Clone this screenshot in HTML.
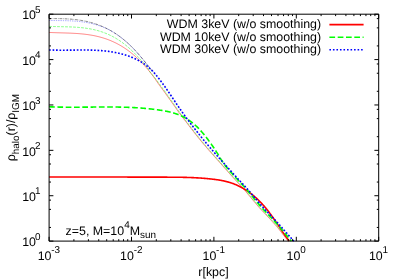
<!DOCTYPE html>
<html><head><meta charset="utf-8"><title>plot</title><style>html,body{margin:0;padding:0;background:#fff}body{width:400px;height:279px;overflow:hidden}svg{will-change:transform}text{text-rendering:geometricPrecision}</style></head><body>
<svg width="400" height="279" viewBox="0 0 400 279" style="display:block">
<rect width="400" height="279" fill="#fff"/>
<g fill="none" stroke-linejoin="round">
<path d="M49.10,32.44 L49.60,32.47 L50.10,32.49 L50.60,32.51 L51.10,32.53 L51.60,32.56 L52.10,32.58 L52.60,32.59 L53.10,32.61 L53.60,32.63 L54.10,32.65 L54.60,32.67 L55.10,32.68 L55.60,32.70 L56.10,32.72 L56.60,32.73 L57.10,32.75 L57.60,32.76 L58.10,32.77 L58.60,32.79 L59.10,32.80 L59.60,32.82 L60.10,32.83 L60.60,32.84 L61.10,32.86 L61.60,32.87 L62.10,32.89 L62.60,32.90 L63.10,32.91 L63.60,32.93 L64.10,32.94 L64.60,32.96 L65.10,32.97 L65.60,32.99 L66.10,33.00 L66.60,33.02 L67.10,33.04 L67.60,33.05 L68.10,33.07 L68.60,33.09 L69.10,33.11 L69.60,33.13 L70.10,33.15 L70.60,33.17 L71.10,33.19 L71.60,33.21 L72.10,33.24 L72.60,33.26 L73.10,33.28 L73.60,33.31 L74.10,33.34 L74.60,33.37 L75.10,33.39 L75.60,33.42 L76.10,33.46 L76.60,33.49 L77.10,33.52 L77.60,33.56 L78.10,33.59 L78.60,33.63 L79.10,33.67 L79.60,33.71 L80.10,33.75 L80.60,33.80 L81.10,33.84 L81.60,33.89 L82.10,33.94 L82.60,33.99 L83.10,34.04 L83.60,34.09 L84.10,34.15 L84.60,34.20 L85.10,34.26 L85.60,34.32 L86.10,34.38 L86.60,34.45 L87.10,34.52 L87.60,34.58 L88.10,34.65 L88.60,34.73 L89.10,34.80 L89.60,34.88 L90.10,34.96 L90.60,35.04 L91.10,35.12 L91.60,35.21 L92.10,35.30 L92.60,35.39 L93.10,35.48 L93.60,35.58 L94.10,35.68 L94.60,35.78 L95.10,35.88 L95.60,35.99 L96.10,36.10 L96.60,36.21 L97.10,36.33 L97.60,36.44 L98.10,36.57 L98.60,36.69 L99.10,36.81 L99.60,36.94 L100.10,37.08 L100.60,37.21 L101.10,37.35 L101.60,37.49 L102.10,37.64 L102.60,37.79 L103.10,37.94 L103.60,38.09 L104.10,38.25 L104.60,38.41 L105.10,38.58 L105.60,38.74 L106.10,38.92 L106.60,39.09 L107.10,39.27 L107.60,39.45 L108.10,39.64 L108.60,39.83 L109.10,40.02 L109.60,40.22 L110.10,40.42 L110.60,40.62 L111.10,40.83 L111.60,41.05 L112.10,41.26 L112.60,41.48 L113.10,41.71 L113.60,41.94 L114.10,42.17 L114.60,42.41 L115.10,42.65 L115.60,42.89 L116.10,43.14 L116.60,43.40 L117.10,43.66 L117.60,43.92 L118.10,44.19 L118.60,44.46 L119.10,44.73 L119.60,45.02 L120.10,45.30 L120.60,45.59 L121.10,45.89 L121.60,46.18 L122.10,46.49 L122.60,46.80 L123.10,47.11 L123.60,47.43 L124.10,47.75 L124.60,48.08 L125.10,48.41 L125.60,48.75 L126.10,49.10 L126.60,49.44 L127.10,49.80 L127.60,50.16 L128.10,50.52 L128.60,50.89 L129.10,51.27 L129.60,51.65 L130.10,52.03 L130.60,52.42 L131.10,52.82 L131.60,53.22 L132.10,53.63 L132.60,54.04 L133.10,54.46 L133.60,54.88 L134.10,55.31 L134.60,55.74 L135.10,56.18 L135.60,56.63 L136.10,57.08 L136.60,57.54 L137.10,58.00 L137.60,58.47 L138.10,58.95 L138.60,59.43 L139.10,59.92 L139.60,60.41 L140.10,60.91 L140.60,61.42 L141.10,61.93 L141.60,62.45 L142.10,62.97 L142.60,63.50 L143.10,64.04 L143.60,64.58 L144.10,65.13 L144.60,65.69 L145.10,66.25 L145.60,66.82 L146.10,67.39 L146.60,67.98 L147.10,68.56 L147.60,69.16 L148.10,69.76 L148.60,70.37 L149.10,70.98 L149.60,71.61 L150.10,72.23 L150.60,72.87 L151.10,73.51 L151.60,74.16 L152.10,74.82 L152.60,75.48 L153.10,76.15 L153.60,76.83 L154.10,77.51 L154.60,78.21 L155.10,78.94 L155.60,79.67 L156.10,80.41 L156.60,81.15 L157.10,81.88 L157.60,82.61 L158.10,83.32 L158.60,84.03 L159.10,84.73 L159.60,85.43 L160.10,86.13 L160.60,86.80 L161.10,87.47 L161.60,88.14 L162.10,88.82 L162.60,89.50 L163.10,90.18 L163.60,90.87 L164.10,91.56 L164.60,92.25 L165.10,92.94 L165.60,93.63 L166.10,94.33 L166.60,95.03 L167.10,95.73 L167.60,96.43 L168.10,97.13 L168.60,97.84 L169.10,98.54 L169.60,99.24 L170.10,99.95 L170.60,100.65 L171.10,101.36 L171.60,102.06 L172.10,102.77 L172.60,103.47 L173.10,104.17 L173.60,104.87 L174.10,105.57 L174.60,106.29 L175.10,107.01 L175.60,107.73 L176.10,108.45 L176.60,109.16 L177.10,109.87 L177.60,110.57 L178.10,111.27 L178.60,111.97 L179.10,112.66 L179.60,113.35 L180.10,114.03 L180.60,114.71 L181.10,115.39 L181.60,116.06 L182.10,116.72 L182.60,117.39 L183.10,118.05 L183.60,118.70 L184.10,119.36 L184.60,120.01 L185.10,120.66 L185.60,121.30 L186.10,121.95 L186.60,122.59 L187.10,123.23 L187.60,123.89 L188.10,124.55 L188.60,125.21 L189.10,125.87 L189.60,126.52 L190.10,127.17 L190.60,127.83 L191.10,128.48 L191.60,129.13 L192.10,129.78 L192.60,130.42 L193.10,131.07 L193.60,131.71 L194.10,132.35 L194.60,132.99 L195.10,133.63 L195.60,134.27 L196.10,134.91 L196.60,135.54 L197.10,136.17 L197.60,136.80 L198.10,137.43 L198.60,138.05 L199.10,138.68 L199.60,139.30 L200.10,139.92 L200.60,140.52 L201.10,141.12 L201.60,141.72 L202.10,142.32 L202.60,142.91 L203.10,143.51 L203.60,144.10 L204.10,144.69 L204.60,145.28 L205.10,145.86 L205.60,146.45 L206.10,147.03 L206.60,147.61 L207.10,148.19 L207.60,148.77 L208.10,149.35 L208.60,149.92 L209.10,150.49 L209.60,151.07 L210.10,151.64 L210.60,152.21 L211.10,152.77 L211.60,153.34 L212.10,153.91 L212.60,154.47 L213.10,155.04 L213.60,155.60 L214.10,156.16 L214.60,156.72 L215.10,157.28 L215.60,157.84 L216.10,158.40 L216.60,158.97 L217.10,159.54 L217.60,160.11 L218.10,160.67 L218.60,161.24 L219.10,161.80 L219.60,162.37 L220.10,162.93 L220.60,163.50 L221.10,164.06 L221.60,164.62 L222.10,165.19 L222.60,165.75 L223.10,166.31 L223.60,166.87 L224.10,167.44 L224.60,168.00 L225.10,168.56 L225.60,169.13 L226.10,169.69 L226.60,170.25 L227.10,170.81 L227.60,171.38 L228.10,171.94 L228.60,172.50 L229.10,173.06 L229.60,173.62 L230.10,174.18 L230.60,174.74 L231.10,175.30 L231.60,175.86 L232.10,176.42 L232.60,176.97 L233.10,177.53 L233.60,178.09 L234.10,178.64 L234.60,179.19 L235.10,179.74 L235.60,180.29 L236.10,180.84 L236.60,181.38 L237.10,181.92 L237.60,182.46 L238.10,183.00 L238.60,183.54 L239.10,184.07 L239.60,184.61 L240.10,185.15 L240.60,185.69 L241.10,186.24 L241.60,186.78 L242.10,187.33 L242.60,187.89 L243.10,188.45 L243.60,189.02 L244.10,189.59 L244.60,190.17 L245.10,190.76 L245.60,191.35 L246.10,191.95 L246.60,192.55 L247.10,193.15 L247.60,193.76 L248.10,194.36 L248.60,194.96 L249.10,195.56 L249.60,196.16 L250.10,196.76 L250.60,197.36 L251.10,197.96 L251.60,198.55 L252.10,199.15 L252.60,199.74 L253.10,200.34 L253.60,200.93 L254.10,201.53 L254.60,202.12 L255.10,202.71 L255.60,203.31 L256.10,203.90 L256.60,204.49 L257.10,205.08 L257.60,205.67 L258.10,206.25 L258.60,206.83 L259.10,207.40 L259.60,207.97 L260.10,208.53 L260.60,209.08 L261.10,209.62 L261.60,210.17 L262.10,210.70 L262.60,211.24 L263.10,211.77 L263.60,212.30 L264.10,212.83 L264.60,213.35 L265.10,213.88 L265.60,214.40 L266.10,214.92 L266.60,215.45 L267.10,215.97 L267.60,216.50 L268.10,217.02 L268.60,217.55 L269.10,218.09 L269.60,218.62 L270.10,219.16 L270.60,219.70 L271.10,220.25 L271.60,220.79 L272.10,221.35 L272.60,221.90 L273.10,222.46 L273.60,223.01 L274.10,223.57 L274.60,224.14 L275.10,224.70 L275.60,225.27 L276.10,225.84 L276.60,226.41 L277.10,226.98 L277.60,227.55 L278.10,228.14 L278.60,228.78 L279.10,229.43 L279.60,230.08 L280.10,230.73 L280.60,231.37 L281.10,232.02 L281.60,232.67 L282.10,233.32 L282.60,233.97 L283.10,234.61 L283.60,235.26 L284.10,235.90 L284.60,236.54 L285.10,237.19 L285.60,237.83 L286.10,238.46 L286.60,239.10 L287.10,239.73 L287.60,240.36 L288.10,240.98 L288.20,241.10" stroke="#f00" stroke-width="0.5"/>
<path d="M49.10,26.39 L49.60,26.41 L50.10,26.43 L50.60,26.45 L51.10,26.47 L51.60,26.48 L52.10,26.50 L52.60,26.51 L53.10,26.53 L53.60,26.54 L54.10,26.56 L54.60,26.57 L55.10,26.58 L55.60,26.59 L56.10,26.60 L56.60,26.61 L57.10,26.62 L57.60,26.63 L58.10,26.64 L58.60,26.65 L59.10,26.66 L59.60,26.67 L60.10,26.68 L60.60,26.69 L61.10,26.70 L61.60,26.71 L62.10,26.72 L62.60,26.73 L63.10,26.74 L63.60,26.75 L64.10,26.76 L64.60,26.77 L65.10,26.78 L65.60,26.79 L66.10,26.80 L66.60,26.81 L67.10,26.83 L67.60,26.84 L68.10,26.86 L68.60,26.87 L69.10,26.89 L69.60,26.90 L70.10,26.92 L70.60,26.94 L71.10,26.96 L71.60,26.98 L72.10,27.00 L72.60,27.03 L73.10,27.05 L73.60,27.07 L74.10,27.10 L74.60,27.13 L75.10,27.16 L75.60,27.19 L76.10,27.22 L76.60,27.25 L77.10,27.29 L77.60,27.32 L78.10,27.36 L78.60,27.40 L79.10,27.44 L79.60,27.49 L80.10,27.53 L80.60,27.58 L81.10,27.63 L81.60,27.68 L82.10,27.73 L82.60,27.78 L83.10,27.84 L83.60,27.90 L84.10,27.96 L84.60,28.02 L85.10,28.09 L85.60,28.15 L86.10,28.22 L86.60,28.30 L87.10,28.37 L87.60,28.45 L88.10,28.53 L88.60,28.61 L89.10,28.69 L89.60,28.78 L90.10,28.87 L90.60,28.96 L91.10,29.06 L91.60,29.16 L92.10,29.26 L92.60,29.37 L93.10,29.47 L93.60,29.58 L94.10,29.70 L94.60,29.81 L95.10,29.93 L95.60,30.06 L96.10,30.18 L96.60,30.31 L97.10,30.45 L97.60,30.58 L98.10,30.72 L98.60,30.87 L99.10,31.01 L99.60,31.16 L100.10,31.32 L100.60,31.48 L101.10,31.64 L101.60,31.80 L102.10,31.97 L102.60,32.14 L103.10,32.32 L103.60,32.50 L104.10,32.69 L104.60,32.88 L105.10,33.07 L105.60,33.27 L106.10,33.47 L106.60,33.67 L107.10,33.88 L107.60,34.10 L108.10,34.32 L108.60,34.54 L109.10,34.77 L109.60,35.00 L110.10,35.23 L110.60,35.48 L111.10,35.72 L111.60,35.97 L112.10,36.23 L112.60,36.49 L113.10,36.75 L113.60,37.02 L114.10,37.30 L114.60,37.58 L115.10,37.86 L115.60,38.15 L116.10,38.45 L116.60,38.75 L117.10,39.05 L117.60,39.36 L118.10,39.68 L118.60,40.00 L119.10,40.32 L119.60,40.66 L120.10,40.99 L120.60,41.34 L121.10,41.69 L121.60,42.04 L122.10,42.40 L122.60,42.76 L123.10,43.14 L123.60,43.51 L124.10,43.90 L124.60,44.28 L125.10,44.68 L125.60,45.08 L126.10,45.49 L126.60,45.90 L127.10,46.32 L127.60,46.74 L128.10,47.17 L128.60,47.61 L129.10,48.05 L129.60,48.50 L130.10,48.96 L130.60,49.42 L131.10,49.89 L131.60,50.36 L132.10,50.84 L132.60,51.32 L133.10,51.82 L133.60,52.31 L134.10,52.81 L134.60,53.32 L135.10,53.83 L135.60,54.35 L136.10,54.87 L136.60,55.39 L137.10,55.92 L137.60,56.45 L138.10,56.98 L138.60,57.52 L139.10,58.06 L139.60,58.60 L140.10,59.14 L140.60,59.68 L141.10,60.23 L141.60,60.78 L142.10,61.33 L142.60,61.89 L143.10,62.45 L143.60,63.01 L144.10,63.57 L144.60,64.14 L145.10,64.71 L145.60,65.29 L146.10,65.87 L146.60,66.53 L147.10,67.27 L147.60,68.07 L148.10,68.88 L148.60,69.70 L149.10,70.51 L149.60,71.28 L150.10,72.02 L150.60,72.71 L151.10,73.35 L151.60,73.93 L152.10,74.51 L152.60,75.10 L153.10,75.70 L153.60,76.31 L154.10,76.93 L154.60,77.56 L155.10,78.19 L155.60,78.83 L156.10,79.48 L156.60,80.14 L157.10,80.80 L157.60,81.47 L158.10,82.15 L158.60,82.83 L159.10,83.51 L159.60,84.21 L160.10,84.90 L160.60,85.56 L161.10,86.24 L161.60,86.91 L162.10,87.59 L162.60,88.27 L163.10,88.96 L163.60,89.65 L164.10,90.34 L164.60,91.04 L165.10,91.73 L165.60,92.43 L166.10,93.13 L166.60,93.84 L167.10,94.54 L167.60,95.25 L168.10,95.96 L168.60,96.67 L169.10,97.38 L169.60,98.09 L170.10,98.81 L170.60,99.52 L171.10,100.23 L171.60,100.94 L172.10,101.66 L172.60,102.37 L173.10,103.08 L173.60,103.79 L174.10,104.51 L174.60,105.23 L175.10,105.96 L175.60,106.68 L176.10,107.41 L176.60,108.13 L177.10,108.84 L177.60,109.55 L178.10,110.26 L178.60,110.97 L179.10,111.67 L179.60,112.37 L180.10,113.06 L180.60,113.75 L181.10,114.43 L181.60,115.11 L182.10,115.79 L182.60,116.46 L183.10,117.13 L183.60,117.80 L184.10,118.46 L184.60,119.11 L185.10,119.77 L185.60,120.42 L186.10,121.07 L186.60,121.72 L187.10,122.37 L187.60,123.03 L188.10,123.69 L188.60,124.35 L189.10,125.00 L189.60,125.66 L190.10,126.31 L190.60,126.96 L191.10,127.61 L191.60,128.26 L192.10,128.91 L192.60,129.56 L193.10,130.20 L193.60,130.85 L194.10,131.49 L194.60,132.13 L195.10,132.77 L195.60,133.41 L196.10,134.04 L196.60,134.68 L197.10,135.31 L197.60,135.94 L198.10,136.57 L198.60,137.20 L199.10,137.82 L199.60,138.44 L200.10,139.06 L200.60,139.67 L201.10,140.27 L201.60,140.88 L202.10,141.48 L202.60,142.08 L203.10,142.68 L203.60,143.27 L204.10,143.86 L204.60,144.46 L205.10,145.04 L205.60,145.63 L206.10,146.22 L206.60,146.80 L207.10,147.38 L207.60,147.97 L208.10,148.54 L208.60,149.12 L209.10,149.70 L209.60,150.27 L210.10,150.85 L210.60,151.42 L211.10,151.99 L211.60,152.56 L212.10,153.13 L212.60,153.69 L213.10,154.26 L213.60,154.83 L214.10,155.39 L214.60,155.95 L215.10,156.51 L215.60,157.08 L216.10,157.64 L216.60,158.21 L217.10,158.77 L217.60,159.34 L218.10,159.91 L218.60,160.47 L219.10,161.03 L219.60,161.60 L220.10,162.16 L220.60,162.73 L221.10,163.29 L221.60,163.85 L222.10,164.41 L222.60,164.97 L223.10,165.54 L223.60,166.10 L224.10,166.66 L224.60,167.22 L225.10,167.78 L225.60,168.34 L226.10,168.90 L226.60,169.47 L227.10,170.03 L227.60,170.59 L228.10,171.15 L228.60,171.71 L229.10,172.27 L229.60,172.83 L230.10,173.39 L230.60,173.95 L231.10,174.51 L231.60,175.07 L232.10,175.62 L232.60,176.18 L233.10,176.74 L233.60,177.29 L234.10,177.85 L234.60,178.40 L235.10,178.95 L235.60,179.50 L236.10,180.05 L236.60,180.59 L237.10,181.14 L237.60,181.68 L238.10,182.22 L238.60,182.75 L239.10,183.29 L239.60,183.82 L240.10,184.36 L240.60,184.89 L241.10,185.43 L241.60,185.97 L242.10,186.52 L242.60,187.06 L243.10,187.61 L243.60,188.17 L244.10,188.73 L244.60,189.30 L245.10,189.88 L245.60,190.46 L246.10,191.05 L246.60,191.64 L247.10,192.23 L247.60,192.83 L248.10,193.44 L248.60,194.03 L249.10,194.63 L249.60,195.23 L250.10,195.83 L250.60,196.43 L251.10,197.02 L251.60,197.62 L252.10,198.22 L252.60,198.81 L253.10,199.41 L253.60,200.00 L254.10,200.60 L254.60,201.19 L255.10,201.78 L255.60,202.38 L256.10,202.97 L256.60,203.56 L257.10,204.15 L257.60,204.75 L258.10,205.33 L258.60,205.92 L259.10,206.50 L259.60,207.07 L260.10,207.64 L260.60,208.20 L261.10,208.76 L261.60,209.31 L262.10,209.85 L262.60,210.39 L263.10,210.92 L263.60,211.46 L264.10,211.99 L264.60,212.52 L265.10,213.04 L265.60,213.57 L266.10,214.09 L266.60,214.61 L267.10,215.13 L267.60,215.66 L268.10,216.18 L268.60,216.70 L269.10,217.23 L269.60,217.76 L270.10,218.29 L270.60,218.83 L271.10,219.36 L271.60,219.91 L272.10,220.45 L272.60,221.00 L273.10,221.55 L273.60,222.10 L274.10,222.66 L274.60,223.22 L275.10,223.78 L275.60,224.34 L276.10,224.90 L276.60,225.47 L277.10,226.03 L277.60,226.60 L278.10,227.18 L278.60,227.81 L279.10,228.44 L279.60,229.07 L280.10,229.70 L280.60,230.34 L281.10,230.97 L281.60,231.60 L282.10,232.23 L282.60,232.87 L283.10,233.50 L283.60,234.13 L284.10,234.76 L284.60,235.39 L285.10,236.02 L285.60,236.64 L286.10,237.27 L286.60,237.89 L287.10,238.51 L287.60,239.13 L288.10,239.74 L288.60,240.33 L289.10,240.91 L289.26,241.10" stroke="#0f0" stroke-width="0.5" stroke-dasharray="2.8 1.2"/>
<path d="M49.10,20.49 L49.60,20.50 L50.10,20.50 L50.60,20.51 L51.10,20.51 L51.60,20.52 L52.10,20.52 L52.60,20.53 L53.10,20.53 L53.60,20.54 L54.10,20.54 L54.60,20.54 L55.10,20.55 L55.60,20.55 L56.10,20.55 L56.60,20.56 L57.10,20.56 L57.60,20.57 L58.10,20.57 L58.60,20.58 L59.10,20.58 L59.60,20.59 L60.10,20.59 L60.60,20.60 L61.10,20.60 L61.60,20.61 L62.10,20.62 L62.60,20.63 L63.10,20.64 L63.60,20.65 L64.10,20.66 L64.60,20.67 L65.10,20.68 L65.60,20.69 L66.10,20.71 L66.60,20.72 L67.10,20.74 L67.60,20.75 L68.10,20.77 L68.60,20.79 L69.10,20.81 L69.60,20.83 L70.10,20.85 L70.60,20.87 L71.10,20.90 L71.60,20.93 L72.10,20.95 L72.60,20.98 L73.10,21.01 L73.60,21.04 L74.10,21.08 L74.60,21.11 L75.10,21.15 L75.60,21.19 L76.10,21.23 L76.60,21.27 L77.10,21.31 L77.60,21.36 L78.10,21.41 L78.60,21.46 L79.10,21.51 L79.60,21.56 L80.10,21.62 L80.60,21.67 L81.10,21.73 L81.60,21.80 L82.10,21.86 L82.60,21.93 L83.10,22.00 L83.60,22.07 L84.10,22.14 L84.60,22.22 L85.10,22.30 L85.60,22.38 L86.10,22.46 L86.60,22.55 L87.10,22.64 L87.60,22.73 L88.10,22.82 L88.60,22.92 L89.10,23.02 L89.60,23.12 L90.10,23.23 L90.60,23.34 L91.10,23.45 L91.60,23.56 L92.10,23.68 L92.60,23.80 L93.10,23.93 L93.60,24.06 L94.10,24.19 L94.60,24.32 L95.10,24.46 L95.60,24.60 L96.10,24.74 L96.60,24.89 L97.10,25.04 L97.60,25.20 L98.10,25.36 L98.60,25.52 L99.10,25.68 L99.60,25.85 L100.10,26.03 L100.60,26.20 L101.10,26.38 L101.60,26.56 L102.10,26.75 L102.60,26.94 L103.10,27.13 L103.60,27.33 L104.10,27.53 L104.60,27.73 L105.10,27.94 L105.60,28.16 L106.10,28.38 L106.60,28.60 L107.10,28.83 L107.60,29.07 L108.10,29.31 L108.60,29.56 L109.10,29.81 L109.60,30.07 L110.10,30.33 L110.60,30.60 L111.10,30.88 L111.60,31.16 L112.10,31.44 L112.60,31.74 L113.10,32.04 L113.60,32.34 L114.10,32.65 L114.60,32.97 L115.10,33.29 L115.60,33.62 L116.10,33.95 L116.60,34.29 L117.10,34.63 L117.60,34.98 L118.10,35.33 L118.60,35.69 L119.10,36.05 L119.60,36.42 L120.10,36.79 L120.60,37.17 L121.10,37.55 L121.60,37.94 L122.10,38.33 L122.60,38.72 L123.10,39.12 L123.60,39.53 L124.10,39.94 L124.60,40.36 L125.10,40.78 L125.60,41.20 L126.10,41.64 L126.60,42.07 L127.10,42.52 L127.60,42.96 L128.10,43.42 L128.60,43.88 L129.10,44.34 L129.60,44.81 L130.10,45.29 L130.60,45.77 L131.10,46.26 L131.60,46.75 L132.10,47.25 L132.60,47.76 L133.10,48.27 L133.60,48.78 L134.10,49.31 L134.60,49.83 L135.10,50.37 L135.60,50.91 L136.10,51.45 L136.60,52.01 L137.10,52.56 L137.60,53.12 L138.10,53.69 L138.60,54.26 L139.10,54.83 L139.60,55.41 L140.10,56.00 L140.60,56.58 L141.10,57.17 L141.60,57.77 L142.10,58.37 L142.60,58.97 L143.10,59.57 L143.60,60.18 L144.10,60.79 L144.60,61.40 L145.10,62.01 L145.60,62.63 L146.10,63.25 L146.60,63.87 L147.10,64.49 L147.60,65.11 L148.10,65.74 L148.60,66.40 L149.10,67.09 L149.60,67.77 L150.10,68.42 L150.60,69.03 L151.10,69.60 L151.60,70.14 L152.10,70.65 L152.60,71.17 L153.10,71.69 L153.60,72.23" stroke="#00f" stroke-width="0.5" stroke-dasharray="0.7 1.06"/>
<path d="M49.10,18.63 L49.60,18.62 L50.10,18.62 L50.60,18.62 L51.10,18.61 L51.60,18.61 L52.10,18.60 L52.60,18.60 L53.10,18.60 L53.60,18.60 L54.10,18.60 L54.60,18.60 L55.10,18.60 L55.60,18.60 L56.10,18.60 L56.60,18.60 L57.10,18.61 L57.60,18.61 L58.10,18.62 L58.60,18.62 L59.10,18.63 L59.60,18.64 L60.10,18.65 L60.60,18.66 L61.10,18.67 L61.60,18.68 L62.10,18.69 L62.60,18.71 L63.10,18.72 L63.60,18.74 L64.10,18.76 L64.60,18.78 L65.10,18.80 L65.60,18.82 L66.10,18.85 L66.60,18.87 L67.10,18.90 L67.60,18.93 L68.10,18.95 L68.60,18.99 L69.10,19.02 L69.60,19.05 L70.10,19.09 L70.60,19.13 L71.10,19.17 L71.60,19.21 L72.10,19.25 L72.60,19.30 L73.10,19.34 L73.60,19.39 L74.10,19.44 L74.60,19.49 L75.10,19.55 L75.60,19.61 L76.10,19.66 L76.60,19.73 L77.10,19.79 L77.60,19.85 L78.10,19.92 L78.60,19.99 L79.10,20.06 L79.60,20.14 L80.10,20.21 L80.60,20.29 L81.10,20.37 L81.60,20.46 L82.10,20.54 L82.60,20.63 L83.10,20.72 L83.60,20.81 L84.10,20.91 L84.60,21.01 L85.10,21.11 L85.60,21.22 L86.10,21.32 L86.60,21.43 L87.10,21.54 L87.60,21.66 L88.10,21.78 L88.60,21.90 L89.10,22.02 L89.60,22.15 L90.10,22.28 L90.60,22.41 L91.10,22.55 L91.60,22.69 L92.10,22.83 L92.60,22.98 L93.10,23.12 L93.60,23.28 L94.10,23.43 L94.60,23.59 L95.10,23.75 L95.60,23.92 L96.10,24.08 L96.60,24.26 L97.10,24.43 L97.60,24.61 L98.10,24.79 L98.60,24.98 L99.10,25.17 L99.60,25.36 L100.10,25.56 L100.60,25.76 L101.10,25.96 L101.60,26.17 L102.10,26.38 L102.60,26.60 L103.10,26.82 L103.60,27.04 L104.10,27.27 L104.60,27.50 L105.10,27.73 L105.60,27.97 L106.10,28.21 L106.60,28.46 L107.10,28.71 L107.60,28.97 L108.10,29.23 L108.60,29.49 L109.10,29.76 L109.60,30.03 L110.10,30.31 L110.60,30.59 L111.10,30.87 L111.60,31.16 L112.10,31.46 L112.60,31.76 L113.10,32.06 L113.60,32.37 L114.10,32.68 L114.60,33.00 L115.10,33.32 L115.60,33.65 L116.10,33.98 L116.60,34.31 L117.10,34.65 L117.60,35.00 L118.10,35.35 L118.60,35.70 L119.10,36.06 L119.60,36.43 L120.10,36.80 L120.60,37.17 L121.10,37.55 L121.60,37.94 L122.10,38.33 L122.60,38.72 L123.10,39.12 L123.60,39.53 L124.10,39.94 L124.60,40.36 L125.10,40.78 L125.60,41.20 L126.10,41.64 L126.60,42.07 L127.10,42.52 L127.60,42.96 L128.10,43.42 L128.60,43.88 L129.10,44.34 L129.60,44.81 L130.10,45.29 L130.60,45.77 L131.10,46.26 L131.60,46.75 L132.10,47.25 L132.60,47.76 L133.10,48.27 L133.60,48.78 L134.10,49.31 L134.60,49.83 L135.10,50.37 L135.60,50.91 L136.10,51.45 L136.60,52.01 L137.10,52.56 L137.60,53.12 L138.10,53.69 L138.60,54.26 L139.10,54.83 L139.60,55.41 L140.10,56.00 L140.60,56.58 L141.10,57.17 L141.60,57.77 L142.10,58.37 L142.60,58.97 L143.10,59.57 L143.60,60.18 L144.10,60.79 L144.60,61.40 L145.10,62.01 L145.60,62.63 L146.10,63.25 L146.60,63.87 L147.10,64.49 L147.60,65.11 L148.10,65.74 L148.60,66.40 L149.10,67.09 L149.60,67.77 L150.10,68.42 L150.60,69.03 L151.10,69.60 L151.60,70.14 L152.10,70.65 L152.60,71.17 L153.10,71.69 L153.60,72.23" stroke="#000" stroke-width="0.5" stroke-dasharray="2.8 0.9 0.6 0.9"/>
<path d="M154.10,72.78 L154.60,73.34 L155.10,73.91 L155.60,74.49 L156.10,75.08 L156.60,75.68 L157.10,76.29 L157.60,76.91 L158.10,77.53 L158.60,78.17 L159.10,78.81 L159.60,79.46 L160.10,80.11 L160.60,80.78 L161.10,81.45 L161.60,82.12 L162.10,82.80 L162.60,83.49 L163.10,84.18 L163.60,84.87 L164.10,85.57 L164.60,86.28 L165.10,86.99 L165.60,87.70 L166.10,88.42 L166.60,89.14 L167.10,89.86 L167.60,90.58 L168.10,91.31 L168.60,92.05 L169.10,92.78 L169.60,93.52 L170.10,94.26 L170.60,95.00 L171.10,95.74 L171.60,96.48 L172.10,97.23 L172.60,97.97 L173.10,98.72 L173.60,99.47 L174.10,100.21 L174.60,100.96 L175.10,101.71 L175.60,102.45 L176.10,103.20 L176.60,103.94 L177.10,104.69 L177.60,105.43 L178.10,106.17 L178.60,106.90 L179.10,107.64 L179.60,108.37 L180.10,109.10 L180.60,109.82 L181.10,110.55 L181.60,111.26 L182.10,111.98 L182.60,112.69 L183.10,113.39 L183.60,114.09 L184.10,114.78 L184.60,115.47 L185.10,116.16 L185.60,116.84 L186.10,117.52 L186.60,118.20 L187.10,118.87 L187.60,119.54 L188.10,120.20 L188.60,120.86 L189.10,121.52 L189.60,122.18 L190.10,122.84 L190.60,123.49 L191.10,124.14 L191.60,124.79 L192.10,125.44 L192.60,126.08 L193.10,126.73 L193.60,127.37 L194.10,128.01 L194.60,128.65 L195.10,129.29 L195.60,129.93 L196.10,130.57 L196.60,131.20 L197.10,131.84 L197.60,132.47 L198.10,133.10 L198.60,133.73 L199.10,134.36 L199.60,134.98 L200.10,135.60 L200.60,136.23 L201.10,136.85 L201.60,137.46 L202.10,138.08 L202.60,138.69 L203.10,139.31 L203.60,139.92 L204.10,140.52 L204.60,141.13 L205.10,141.73 L205.60,142.33 L206.10,142.93 L206.60,143.53 L207.10,144.13 L207.60,144.72 L208.10,145.31 L208.60,145.90 L209.10,146.49 L209.60,147.08 L210.10,147.66 L210.60,148.24 L211.10,148.82 L211.60,149.40 L212.10,149.98 L212.60,150.56 L213.10,151.14 L213.60,151.71 L214.10,152.28 L214.60,152.85 L215.10,153.42 L215.60,153.99 L216.10,154.56 L216.60,155.13 L217.10,155.70 L217.60,156.26 L218.10,156.83 L218.60,157.39 L219.10,157.95 L219.60,158.51 L220.10,159.07 L220.60,159.64 L221.10,160.19 L221.60,160.75 L222.10,161.31 L222.60,161.87 L223.10,162.43 L223.60,162.99 L224.10,163.54 L224.60,164.10 L225.10,164.66 L225.60,165.21 L226.10,165.77 L226.60,166.32 L227.10,166.88 L227.60,167.44 L228.10,167.99 L228.60,168.55 L229.10,169.10 L229.60,169.66 L230.10,170.21 L230.60,170.77 L231.10,171.33 L231.60,171.88 L232.10,172.44 L232.60,172.99 L233.10,173.55 L233.60,174.10 L234.10,174.65 L234.60,175.20 L235.10,175.75 L235.60,176.30 L236.10,176.85 L236.60,177.40 L237.10,177.94 L237.60,178.49 L238.10,179.03 L238.60,179.57 L239.10,180.11 L239.60,180.65 L240.10,181.18 L240.60,181.72 L241.10,182.25 L241.60,182.77 L242.10,183.30 L242.60,183.83 L243.10,184.36 L243.60,184.88 L244.10,185.41 L244.60,185.95 L245.10,186.48 L245.60,187.02 L246.10,187.56 L246.60,188.11 L247.10,188.66 L247.60,189.22 L248.10,189.79 L248.60,190.36 L249.10,190.94 L249.60,191.52 L250.10,192.11 L250.60,192.70 L251.10,193.29 L251.60,193.89 L252.10,194.48 L252.60,195.08 L253.10,195.67 L253.60,196.27 L254.10,196.86 L254.60,197.46 L255.10,198.05 L255.60,198.64 L256.10,199.23 L256.60,199.83 L257.10,200.42 L257.60,201.01 L258.10,201.60 L258.60,202.19 L259.10,202.78 L259.60,203.37 L260.10,203.96 L260.60,204.54 L261.10,205.13 L261.60,205.71 L262.10,206.29 L262.60,206.86 L263.10,207.43 L263.60,207.99 L264.10,208.55 L264.60,209.10 L265.10,209.64 L265.60,210.18 L266.10,210.71 L266.60,211.24 L267.10,211.77 L267.60,212.29 L268.10,212.81 L268.60,213.33 L269.10,213.85 L269.60,214.36 L270.10,214.88 L270.60,215.40 L271.10,215.92 L271.60,216.43 L272.10,216.95 L272.60,217.48 L273.10,218.00 L273.60,218.53 L274.10,219.06 L274.60,219.59 L275.10,220.13 L275.60,220.67 L276.10,221.21 L276.60,221.76 L277.10,222.31 L277.60,222.86 L278.10,223.41 L278.60,223.97 L279.10,224.52 L279.60,225.08 L280.10,225.64 L280.60,226.20 L281.10,226.77 L281.60,227.33 L282.10,227.90 L282.60,228.46 L283.10,229.03 L283.60,229.60 L284.10,230.16 L284.60,230.73 L285.10,231.30 L285.60,231.87 L286.10,232.44 L286.60,233.01 L287.10,233.58 L287.60,234.14 L288.10,234.71 L288.60,235.28 L289.10,235.84 L289.60,236.41 L290.10,236.97 L290.60,237.53 L291.10,238.09 L291.60,238.65 L292.10,239.20 L292.60,239.76 L293.10,240.31 L293.60,240.86 L293.82,241.10" stroke="#000" stroke-width="0.5" stroke-dasharray="2.8 0.9 0.6 0.9" stroke-opacity="0.3"/>
<path d="M49.10,177.01 L49.60,177.01 L50.10,177.01 L50.60,177.01 L51.10,177.01 L51.60,177.00 L52.10,177.00 L52.60,177.00 L53.10,177.00 L53.60,177.00 L54.10,177.00 L54.60,177.00 L55.10,176.99 L55.60,176.99 L56.10,176.99 L56.60,176.99 L57.10,176.99 L57.60,176.99 L58.10,176.99 L58.60,176.99 L59.10,176.99 L59.60,176.98 L60.10,176.98 L60.60,176.98 L61.10,176.98 L61.60,176.98 L62.10,176.98 L62.60,176.98 L63.10,176.98 L63.60,176.98 L64.10,176.98 L64.60,176.98 L65.10,176.98 L65.60,176.98 L66.10,176.97 L66.60,176.97 L67.10,176.97 L67.60,176.97 L68.10,176.97 L68.60,176.97 L69.10,176.97 L69.60,176.97 L70.10,176.97 L70.60,176.97 L71.10,176.97 L71.60,176.97 L72.10,176.97 L72.60,176.97 L73.10,176.97 L73.60,176.97 L74.10,176.97 L74.60,176.97 L75.10,176.97 L75.60,176.97 L76.10,176.97 L76.60,176.97 L77.10,176.97 L77.60,176.97 L78.10,176.97 L78.60,176.97 L79.10,176.97 L79.60,176.97 L80.10,176.97 L80.60,176.97 L81.10,176.97 L81.60,176.97 L82.10,176.97 L82.60,176.97 L83.10,176.97 L83.60,176.98 L84.10,176.98 L84.60,176.98 L85.10,176.98 L85.60,176.98 L86.10,176.98 L86.60,176.98 L87.10,176.98 L87.60,176.98 L88.10,176.98 L88.60,176.98 L89.10,176.98 L89.60,176.98 L90.10,176.98 L90.60,176.98 L91.10,176.98 L91.60,176.99 L92.10,176.99 L92.60,176.99 L93.10,176.99 L93.60,176.99 L94.10,176.99 L94.60,176.99 L95.10,176.99 L95.60,176.99 L96.10,176.99 L96.60,176.99 L97.10,177.00 L97.60,177.00 L98.10,177.00 L98.60,177.00 L99.10,177.00 L99.60,177.00 L100.10,177.00 L100.60,177.00 L101.10,177.00 L101.60,177.00 L102.10,177.01 L102.60,177.01 L103.10,177.01 L103.60,177.01 L104.10,177.01 L104.60,177.01 L105.10,177.01 L105.60,177.01 L106.10,177.02 L106.60,177.02 L107.10,177.02 L107.60,177.02 L108.10,177.02 L108.60,177.02 L109.10,177.02 L109.60,177.02 L110.10,177.03 L110.60,177.03 L111.10,177.03 L111.60,177.03 L112.10,177.03 L112.60,177.03 L113.10,177.03 L113.60,177.03 L114.10,177.04 L114.60,177.04 L115.10,177.04 L115.60,177.04 L116.10,177.04 L116.60,177.04 L117.10,177.04 L117.60,177.05 L118.10,177.05 L118.60,177.05 L119.10,177.05 L119.60,177.05 L120.10,177.05 L120.60,177.05 L121.10,177.06 L121.60,177.06 L122.10,177.06 L122.60,177.06 L123.10,177.06 L123.60,177.06 L124.10,177.06 L124.60,177.07 L125.10,177.07 L125.60,177.07 L126.10,177.07 L126.60,177.07 L127.10,177.07 L127.60,177.08 L128.10,177.08 L128.60,177.08 L129.10,177.08 L129.60,177.08 L130.10,177.08 L130.60,177.08 L131.10,177.09 L131.60,177.09 L132.10,177.09 L132.60,177.09 L133.10,177.09 L133.60,177.09 L134.10,177.09 L134.60,177.10 L135.10,177.10 L135.60,177.10 L136.10,177.10 L136.60,177.10 L137.10,177.10 L137.60,177.10 L138.10,177.11 L138.60,177.11 L139.10,177.11 L139.60,177.11 L140.10,177.11 L140.60,177.11 L141.10,177.11 L141.60,177.12 L142.10,177.12 L142.60,177.12 L143.10,177.12 L143.60,177.12 L144.10,177.12 L144.60,177.12 L145.10,177.13 L145.60,177.13 L146.10,177.13 L146.60,177.13 L147.10,177.13 L147.60,177.13 L148.10,177.13 L148.60,177.13 L149.10,177.14 L149.60,177.14 L150.10,177.14 L150.60,177.14 L151.10,177.14 L151.60,177.14 L152.10,177.14 L152.60,177.14 L153.10,177.15 L153.60,177.15 L154.10,177.15 L154.60,177.15 L155.10,177.15 L155.60,177.15 L156.10,177.15 L156.60,177.15 L157.10,177.15 L157.60,177.16 L158.10,177.16 L158.60,177.16 L159.10,177.16 L159.60,177.16 L160.10,177.16 L160.60,177.16 L161.10,177.16 L161.60,177.16 L162.10,177.16 L162.60,177.17 L163.10,177.17 L163.60,177.17 L164.10,177.17 L164.60,177.17 L165.10,177.17 L165.60,177.17 L166.10,177.17 L166.60,177.17 L167.10,177.17 L167.60,177.18 L168.10,177.18 L168.60,177.18 L169.10,177.18 L169.60,177.18 L170.10,177.18 L170.60,177.19 L171.10,177.19 L171.60,177.19 L172.10,177.19 L172.60,177.20 L173.10,177.20 L173.60,177.20 L174.10,177.21 L174.60,177.21 L175.10,177.22 L175.60,177.22 L176.10,177.23 L176.60,177.23 L177.10,177.24 L177.60,177.24 L178.10,177.25 L178.60,177.26 L179.10,177.26 L179.60,177.27 L180.10,177.28 L180.60,177.29 L181.10,177.29 L181.60,177.30 L182.10,177.31 L182.60,177.32 L183.10,177.33 L183.60,177.34 L184.10,177.35 L184.60,177.37 L185.10,177.38 L185.60,177.39 L186.10,177.40 L186.60,177.42 L187.10,177.43 L187.60,177.45 L188.10,177.46 L188.60,177.48 L189.10,177.50 L189.60,177.51 L190.10,177.53 L190.60,177.55 L191.10,177.57 L191.60,177.59 L192.10,177.61 L192.60,177.63 L193.10,177.65 L193.60,177.67 L194.10,177.70 L194.60,177.72 L195.10,177.75 L195.60,177.77 L196.10,177.80 L196.60,177.83 L197.10,177.85 L197.60,177.88 L198.10,177.91 L198.60,177.94 L199.10,177.97 L199.60,178.00 L200.10,178.04 L200.60,178.07 L201.10,178.11 L201.60,178.14 L202.10,178.18 L202.60,178.21 L203.10,178.25 L203.60,178.29 L204.10,178.33 L204.60,178.37 L205.10,178.41 L205.60,178.46 L206.10,178.50 L206.60,178.55 L207.10,178.59 L207.60,178.64 L208.10,178.69 L208.60,178.74 L209.10,178.79 L209.60,178.84 L210.10,178.89 L210.60,178.94 L211.10,179.00 L211.60,179.05 L212.10,179.11 L212.60,179.17 L213.10,179.23 L213.60,179.29 L214.10,179.35 L214.60,179.41 L215.10,179.48 L215.60,179.54 L216.10,179.61 L216.60,179.68 L217.10,179.75 L217.60,179.83 L218.10,179.90 L218.60,179.98 L219.10,180.06 L219.60,180.15 L220.10,180.23 L220.60,180.32 L221.10,180.41 L221.60,180.50 L222.10,180.60 L222.60,180.70 L223.10,180.80 L223.60,180.90 L224.10,181.01 L224.60,181.12 L225.10,181.24 L225.60,181.36 L226.10,181.48 L226.60,181.60 L227.10,181.73 L227.60,181.87 L228.10,182.00 L228.60,182.14 L229.10,182.29 L229.60,182.44 L230.10,182.59 L230.60,182.75 L231.10,182.91 L231.60,183.08 L232.10,183.25 L232.60,183.43 L233.10,183.61 L233.60,183.80 L234.10,183.99 L234.60,184.19 L235.10,184.39 L235.60,184.60 L236.10,184.81 L236.60,185.03 L237.10,185.25 L237.60,185.48 L238.10,185.71 L238.60,185.95 L239.10,186.20 L239.60,186.45 L240.10,186.70 L240.60,186.97 L241.10,187.23 L241.60,187.50 L242.10,187.78 L242.60,188.07 L243.10,188.36 L243.60,188.65 L244.10,188.95 L244.60,189.26 L245.10,189.57 L245.60,189.89 L246.10,190.21 L246.60,190.54 L247.10,190.87 L247.60,191.21 L248.10,191.56 L248.60,191.91 L249.10,192.27 L249.60,192.63 L250.10,193.00 L250.60,193.38 L251.10,193.76 L251.60,194.15 L252.10,194.54 L252.60,194.94 L253.10,195.35 L253.60,195.76 L254.10,196.18 L254.60,196.61 L255.10,197.04 L255.60,197.48 L256.10,197.93 L256.60,198.38 L257.10,198.85 L257.60,199.32 L258.10,199.79 L258.60,200.27 L259.10,200.77 L259.60,201.26 L260.10,201.77 L260.60,202.28 L261.10,202.80 L261.60,203.33 L262.10,203.87 L262.60,204.42 L263.10,204.97 L263.60,205.53 L264.10,206.10 L264.60,206.68 L265.10,207.26 L265.60,207.86 L266.10,208.46 L266.60,209.07 L267.10,209.69 L267.60,210.32 L268.10,210.96 L268.60,211.60 L269.10,212.26 L269.60,212.92 L270.10,213.60 L270.60,214.28 L271.10,214.96 L271.60,215.66 L272.10,216.36 L272.60,217.07 L273.10,217.78 L273.60,218.50 L274.10,219.23 L274.60,219.95 L275.10,220.69 L275.60,221.43 L276.10,222.17 L276.60,222.91 L277.10,223.66 L277.60,224.41 L278.10,225.16 L278.60,225.91 L279.10,226.67 L279.60,227.42 L280.10,228.17 L280.60,228.92 L281.10,229.67 L281.60,230.41 L282.10,231.15 L282.60,231.89 L283.10,232.62 L283.60,233.34 L284.10,234.06 L284.60,234.77 L285.10,235.47 L285.60,236.16 L286.10,236.85 L286.60,237.53 L287.10,238.21 L287.60,238.88 L288.10,239.54 L288.60,240.20 L289.10,240.85 L289.29,241.10" stroke="#f00" stroke-width="1.6"/>
<path d="M49.10,106.76 L49.60,106.79 L50.10,106.81 L50.60,106.83 L51.10,106.85 L51.60,106.87 L52.10,106.89 L52.60,106.90 L53.10,106.92 L53.60,106.94 L54.10,106.95 L54.60,106.97 L55.10,106.99 L55.60,107.00 L56.10,107.01 L56.60,107.03 L57.10,107.04 L57.60,107.05 L58.10,107.06 L58.60,107.08 L59.10,107.09 L59.60,107.10 L60.10,107.11 L60.60,107.12 L61.10,107.13 L61.60,107.13 L62.10,107.14 L62.60,107.15 L63.10,107.16 L63.60,107.16 L64.10,107.17 L64.60,107.17 L65.10,107.18 L65.60,107.19 L66.10,107.19 L66.60,107.19 L67.10,107.20 L67.60,107.20 L68.10,107.20 L68.60,107.21 L69.10,107.21 L69.60,107.21 L70.10,107.21 L70.60,107.21 L71.10,107.22 L71.60,107.22 L72.10,107.22 L72.60,107.22 L73.10,107.22 L73.60,107.22 L74.10,107.22 L74.60,107.21 L75.10,107.21 L75.60,107.21 L76.10,107.21 L76.60,107.21 L77.10,107.21 L77.60,107.20 L78.10,107.20 L78.60,107.20 L79.10,107.20 L79.60,107.19 L80.10,107.19 L80.60,107.19 L81.10,107.18 L81.60,107.18 L82.10,107.18 L82.60,107.17 L83.10,107.17 L83.60,107.16 L84.10,107.16 L84.60,107.16 L85.10,107.15 L85.60,107.15 L86.10,107.14 L86.60,107.14 L87.10,107.13 L87.60,107.13 L88.10,107.12 L88.60,107.12 L89.10,107.11 L89.60,107.11 L90.10,107.10 L90.60,107.10 L91.10,107.09 L91.60,107.09 L92.10,107.08 L92.60,107.08 L93.10,107.07 L93.60,107.07 L94.10,107.07 L94.60,107.06 L95.10,107.06 L95.60,107.05 L96.10,107.05 L96.60,107.04 L97.10,107.04 L97.60,107.04 L98.10,107.03 L98.60,107.03 L99.10,107.02 L99.60,107.02 L100.10,107.02 L100.60,107.01 L101.10,107.01 L101.60,107.01 L102.10,107.01 L102.60,107.00 L103.10,107.00 L103.60,107.00 L104.10,107.00 L104.60,107.00 L105.10,107.00 L105.60,106.99 L106.10,106.99 L106.60,106.99 L107.10,106.99 L107.60,106.99 L108.10,106.99 L108.60,106.99 L109.10,107.00 L109.60,107.00 L110.10,107.00 L110.60,107.00 L111.10,107.00 L111.60,107.01 L112.10,107.01 L112.60,107.01 L113.10,107.02 L113.60,107.02 L114.10,107.02 L114.60,107.03 L115.10,107.03 L115.60,107.04 L116.10,107.05 L116.60,107.05 L117.10,107.06 L117.60,107.07 L118.10,107.07 L118.60,107.08 L119.10,107.09 L119.60,107.10 L120.10,107.11 L120.60,107.12 L121.10,107.13 L121.60,107.14 L122.10,107.15 L122.60,107.17 L123.10,107.18 L123.60,107.19 L124.10,107.21 L124.60,107.22 L125.10,107.24 L125.60,107.25 L126.10,107.27 L126.60,107.28 L127.10,107.30 L127.60,107.32 L128.10,107.34 L128.60,107.36 L129.10,107.38 L129.60,107.40 L130.10,107.42 L130.60,107.44 L131.10,107.46 L131.60,107.49 L132.10,107.51 L132.60,107.53 L133.10,107.56 L133.60,107.58 L134.10,107.61 L134.60,107.64 L135.10,107.67 L135.60,107.69 L136.10,107.72 L136.60,107.75 L137.10,107.79 L137.60,107.82 L138.10,107.85 L138.60,107.88 L139.10,107.92 L139.60,107.95 L140.10,107.99 L140.60,108.02 L141.10,108.06 L141.60,108.10 L142.10,108.14 L142.60,108.18 L143.10,108.22 L143.60,108.26 L144.10,108.30 L144.60,108.35 L145.10,108.39 L145.60,108.44 L146.10,108.48 L146.60,108.53 L147.10,108.58 L147.60,108.63 L148.10,108.67 L148.60,108.73 L149.10,108.78 L149.60,108.83 L150.10,108.88 L150.60,108.94 L151.10,108.99 L151.60,109.05 L152.10,109.11 L152.60,109.17 L153.10,109.23 L153.60,109.29 L154.10,109.35 L154.60,109.41 L155.10,109.47 L155.60,109.54 L156.10,109.60 L156.60,109.67 L157.10,109.74 L157.60,109.81 L158.10,109.88 L158.60,109.95 L159.10,110.02 L159.60,110.10 L160.10,110.17 L160.60,110.25 L161.10,110.32 L161.60,110.40 L162.10,110.48 L162.60,110.56 L163.10,110.65 L163.60,110.73 L164.10,110.82 L164.60,110.91 L165.10,111.00 L165.60,111.09 L166.10,111.19 L166.60,111.29 L167.10,111.39 L167.60,111.50 L168.10,111.60 L168.60,111.71 L169.10,111.83 L169.60,111.94 L170.10,112.07 L170.60,112.19 L171.10,112.32 L171.60,112.45 L172.10,112.58 L172.60,112.72 L173.10,112.87 L173.60,113.01 L174.10,113.17 L174.60,113.32 L175.10,113.48 L175.60,113.65 L176.10,113.82 L176.60,114.00 L177.10,114.18 L177.60,114.36 L178.10,114.55 L178.60,114.75 L179.10,114.95 L179.60,115.16 L180.10,115.37 L180.60,115.59 L181.10,115.82 L181.60,116.05 L182.10,116.29 L182.60,116.53 L183.10,116.78 L183.60,117.04 L184.10,117.30 L184.60,117.57 L185.10,117.85 L185.60,118.14 L186.10,118.43 L186.60,118.73 L187.10,119.04 L187.60,119.35 L188.10,119.67 L188.60,120.00 L189.10,120.34 L189.60,120.69 L190.10,121.04 L190.60,121.40 L191.10,121.77 L191.60,122.15 L192.10,122.54 L192.60,122.94 L193.10,123.34 L193.60,123.76 L194.10,124.18 L194.60,124.61 L195.10,125.06 L195.60,125.51 L196.10,125.97 L196.60,126.44 L197.10,126.92 L197.60,127.41 L198.10,127.91 L198.60,128.42 L199.10,128.94 L199.60,129.47 L200.10,130.01 L200.60,130.55 L201.10,131.11 L201.60,131.67 L202.10,132.25 L202.60,132.83 L203.10,133.42 L203.60,134.02 L204.10,134.62 L204.60,135.24 L205.10,135.86 L205.60,136.49 L206.10,137.13 L206.60,137.77 L207.10,138.43 L207.60,139.09 L208.10,139.76 L208.60,140.43 L209.10,141.11 L209.60,141.80 L210.10,142.50 L210.60,143.20 L211.10,143.91 L211.60,144.62 L212.10,145.34 L212.60,146.07 L213.10,146.80 L213.60,147.54 L214.10,148.29 L214.60,149.04 L215.10,149.79 L215.60,150.55 L216.10,151.32 L216.60,152.09 L217.10,152.87 L217.60,153.65 L218.10,154.44 L218.60,155.29 L219.10,156.19 L219.60,157.10 L220.10,157.97 L220.60,158.78 L221.10,159.48 L221.60,160.14 L222.10,160.93 L222.60,161.76 L223.10,162.53 L223.60,163.24 L224.10,163.95 L224.60,164.66 L225.10,165.38 L225.60,166.09 L226.10,166.77 L226.60,167.34 L227.10,167.90 L227.60,168.47 L228.10,169.04 L228.60,169.61 L229.10,170.17 L229.60,170.74 L230.10,171.31 L230.60,171.87 L231.10,172.44 L231.60,173.00 L232.10,173.55 L232.60,174.11 L233.10,174.67 L233.60,175.22 L234.10,175.78 L234.60,176.33 L235.10,176.88 L235.60,177.44 L236.10,177.98 L236.60,178.53 L237.10,179.08 L237.60,179.62 L238.10,180.17 L238.60,180.71 L239.10,181.24 L239.60,181.78 L240.10,182.31 L240.60,182.85 L241.10,183.38 L241.60,183.91 L242.10,184.44 L242.60,184.97 L243.10,185.51 L243.60,186.04 L244.10,186.58 L244.60,187.12 L245.10,187.68 L245.60,188.24 L246.10,188.82 L246.60,189.40 L247.10,189.99 L247.60,190.58 L248.10,191.19 L248.60,191.79 L249.10,192.40 L249.60,193.02 L250.10,193.63 L250.60,194.25 L251.10,194.87 L251.60,195.48 L252.10,196.10 L252.60,196.72 L253.10,197.33 L253.60,197.95 L254.10,198.56 L254.60,199.17 L255.10,199.79 L255.60,200.40 L256.10,201.01 L256.60,201.60 L257.10,202.19 L257.60,202.78 L258.10,203.38 L258.60,203.97 L259.10,204.56 L259.60,205.15 L260.10,205.73 L260.60,206.31 L261.10,206.89 L261.60,207.46 L262.10,208.02 L262.60,208.58 L263.10,209.13 L263.60,209.67 L264.10,210.21 L264.60,210.75 L265.10,211.28 L265.60,211.81 L266.10,212.33 L266.60,212.86 L267.10,213.38 L267.60,213.90 L268.10,214.42 L268.60,214.94 L269.10,215.45 L269.60,215.97 L270.10,216.49 L270.60,217.02 L271.10,217.54 L271.60,218.07 L272.10,218.60 L272.60,219.13 L273.10,219.67 L273.60,220.21 L274.10,220.75 L274.60,221.30 L275.10,221.85 L275.60,222.40 L276.10,222.95 L276.60,223.51 L277.10,224.06 L277.60,224.62 L278.10,225.18 L278.60,225.75 L279.10,226.31 L279.60,226.88 L280.10,227.45 L280.60,228.06 L281.10,228.67 L281.60,229.27 L282.10,229.88 L282.60,230.49 L283.10,231.10 L283.60,231.71 L284.10,232.32 L284.60,232.93 L285.10,233.54 L285.60,234.15 L286.10,234.76 L286.60,235.37 L287.10,235.97 L287.60,236.58 L288.10,237.18 L288.60,237.78 L289.10,238.38 L289.60,238.98 L290.10,239.58 L290.60,240.17 L291.10,240.76 L291.39,241.10" stroke="#0f0" stroke-width="1.6" stroke-dasharray="5.7 2.6"/>
<path d="M49.10,49.91 L49.60,49.93 L50.10,49.96 L50.60,49.98 L51.10,50.00 L51.60,50.02 L52.10,50.04 L52.60,50.05 L53.10,50.07 L53.60,50.09 L54.10,50.10 L54.60,50.11 L55.10,50.12 L55.60,50.14 L56.10,50.15 L56.60,50.15 L57.10,50.16 L57.60,50.17 L58.10,50.18 L58.60,50.18 L59.10,50.19 L59.60,50.19 L60.10,50.19 L60.60,50.19 L61.10,50.20 L61.60,50.20 L62.10,50.20 L62.60,50.20 L63.10,50.20 L63.60,50.19 L64.10,50.19 L64.60,50.19 L65.10,50.19 L65.60,50.18 L66.10,50.18 L66.60,50.18 L67.10,50.17 L67.60,50.17 L68.10,50.16 L68.60,50.16 L69.10,50.15 L69.60,50.14 L70.10,50.14 L70.60,50.13 L71.10,50.13 L71.60,50.12 L72.10,50.11 L72.60,50.11 L73.10,50.10 L73.60,50.09 L74.10,50.09 L74.60,50.08 L75.10,50.07 L75.60,50.07 L76.10,50.06 L76.60,50.06 L77.10,50.05 L77.60,50.04 L78.10,50.04 L78.60,50.04 L79.10,50.03 L79.60,50.03 L80.10,50.02 L80.60,50.02 L81.10,50.02 L81.60,50.01 L82.10,50.01 L82.60,50.01 L83.10,50.01 L83.60,50.01 L84.10,50.01 L84.60,50.01 L85.10,50.01 L85.60,50.02 L86.10,50.02 L86.60,50.02 L87.10,50.03 L87.60,50.04 L88.10,50.04 L88.60,50.05 L89.10,50.06 L89.60,50.07 L90.10,50.08 L90.60,50.09 L91.10,50.10 L91.60,50.11 L92.10,50.13 L92.60,50.14 L93.10,50.16 L93.60,50.18 L94.10,50.20 L94.60,50.22 L95.10,50.24 L95.60,50.26 L96.10,50.29 L96.60,50.31 L97.10,50.34 L97.60,50.37 L98.10,50.40 L98.60,50.43 L99.10,50.46 L99.60,50.49 L100.10,50.53 L100.60,50.57 L101.10,50.61 L101.60,50.65 L102.10,50.69 L102.60,50.73 L103.10,50.78 L103.60,50.82 L104.10,50.87 L104.60,50.92 L105.10,50.98 L105.60,51.03 L106.10,51.09 L106.60,51.15 L107.10,51.21 L107.60,51.27 L108.10,51.33 L108.60,51.40 L109.10,51.47 L109.60,51.54 L110.10,51.61 L110.60,51.69 L111.10,51.76 L111.60,51.84 L112.10,51.92 L112.60,52.01 L113.10,52.09 L113.60,52.18 L114.10,52.27 L114.60,52.36 L115.10,52.46 L115.60,52.56 L116.10,52.66 L116.60,52.76 L117.10,52.86 L117.60,52.97 L118.10,53.08 L118.60,53.20 L119.10,53.31 L119.60,53.43 L120.10,53.55 L120.60,53.67 L121.10,53.80 L121.60,53.93 L122.10,54.06 L122.60,54.20 L123.10,54.33 L123.60,54.47 L124.10,54.62 L124.60,54.77 L125.10,54.92 L125.60,55.07 L126.10,55.23 L126.60,55.39 L127.10,55.55 L127.60,55.72 L128.10,55.89 L128.60,56.06 L129.10,56.24 L129.60,56.42 L130.10,56.61 L130.60,56.80 L131.10,57.00 L131.60,57.20 L132.10,57.40 L132.60,57.61 L133.10,57.82 L133.60,58.04 L134.10,58.26 L134.60,58.49 L135.10,58.72 L135.60,58.96 L136.10,59.20 L136.60,59.45 L137.10,59.70 L137.60,59.95 L138.10,60.22 L138.60,60.49 L139.10,60.76 L139.60,61.04 L140.10,61.33 L140.60,61.62 L141.10,61.92 L141.60,62.22 L142.10,62.54 L142.60,62.86 L143.10,63.18 L143.60,63.52 L144.10,63.86 L144.60,64.22 L145.10,64.58 L145.60,64.95 L146.10,65.32 L146.60,65.71 L147.10,66.11 L147.60,66.51 L148.10,66.93 L148.60,67.36 L149.10,67.79 L149.60,68.24 L150.10,68.70 L150.60,69.17 L151.10,69.65 L151.60,70.14 L152.10,70.65 L152.60,71.16 L153.10,71.69 L153.60,72.23 L154.10,72.78 L154.60,73.34 L155.10,73.91 L155.60,74.49 L156.10,75.08 L156.60,75.68 L157.10,76.29 L157.60,76.91 L158.10,77.53 L158.60,78.17 L159.10,78.81 L159.60,79.46 L160.10,80.11 L160.60,80.78 L161.10,81.45 L161.60,82.12 L162.10,82.80 L162.60,83.49 L163.10,84.18 L163.60,84.87 L164.10,85.57 L164.60,86.28 L165.10,86.99 L165.60,87.70 L166.10,88.42 L166.60,89.14 L167.10,89.86 L167.60,90.58 L168.10,91.31 L168.60,92.05 L169.10,92.78 L169.60,93.52 L170.10,94.26 L170.60,95.00 L171.10,95.74 L171.60,96.48 L172.10,97.23 L172.60,97.97 L173.10,98.72 L173.60,99.47 L174.10,100.21 L174.60,100.96 L175.10,101.71 L175.60,102.45 L176.10,103.20 L176.60,103.94 L177.10,104.69 L177.60,105.43 L178.10,106.17 L178.60,106.90 L179.10,107.64 L179.60,108.37 L180.10,109.10 L180.60,109.82 L181.10,110.55 L181.60,111.26 L182.10,111.98 L182.60,112.69 L183.10,113.39 L183.60,114.09 L184.10,114.78 L184.60,115.47 L185.10,116.16 L185.60,116.84 L186.10,117.52 L186.60,118.20 L187.10,118.87 L187.60,119.54 L188.10,120.20 L188.60,120.86 L189.10,121.52 L189.60,122.18 L190.10,122.84 L190.60,123.49 L191.10,124.14 L191.60,124.79 L192.10,125.44 L192.60,126.08 L193.10,126.73 L193.60,127.37 L194.10,128.01 L194.60,128.65 L195.10,129.29 L195.60,129.93 L196.10,130.57 L196.60,131.20 L197.10,131.84 L197.60,132.47 L198.10,133.10 L198.60,133.73 L199.10,134.36 L199.60,134.98 L200.10,135.60 L200.60,136.23 L201.10,136.85 L201.60,137.46 L202.10,138.08 L202.60,138.69 L203.10,139.31 L203.60,139.92 L204.10,140.52 L204.60,141.13 L205.10,141.73 L205.60,142.33 L206.10,142.93 L206.60,143.53 L207.10,144.13 L207.60,144.72 L208.10,145.31 L208.60,145.90 L209.10,146.49 L209.60,147.08 L210.10,147.66 L210.60,148.24 L211.10,148.82 L211.60,149.40 L212.10,149.98 L212.60,150.56 L213.10,151.14 L213.60,151.71 L214.10,152.28 L214.60,152.85 L215.10,153.42 L215.60,153.99 L216.10,154.56 L216.60,155.13 L217.10,155.70 L217.60,156.26 L218.10,156.83 L218.60,157.39 L219.10,157.95 L219.60,158.51 L220.10,159.07 L220.60,159.64 L221.10,160.19 L221.60,160.75 L222.10,161.31 L222.60,161.87 L223.10,162.43 L223.60,162.99 L224.10,163.54 L224.60,164.10 L225.10,164.66 L225.60,165.21 L226.10,165.77 L226.60,166.32 L227.10,166.88 L227.60,167.44 L228.10,167.99 L228.60,168.55 L229.10,169.10 L229.60,169.66 L230.10,170.21 L230.60,170.77 L231.10,171.33 L231.60,171.88 L232.10,172.44 L232.60,172.99 L233.10,173.55 L233.60,174.10 L234.10,174.65 L234.60,175.20 L235.10,175.75 L235.60,176.30 L236.10,176.85 L236.60,177.40 L237.10,177.94 L237.60,178.49 L238.10,179.03 L238.60,179.57 L239.10,180.11 L239.60,180.65 L240.10,181.18 L240.60,181.72 L241.10,182.25 L241.60,182.77 L242.10,183.30 L242.60,183.83 L243.10,184.36 L243.60,184.88 L244.10,185.41 L244.60,185.95 L245.10,186.48 L245.60,187.02 L246.10,187.56 L246.60,188.11 L247.10,188.66 L247.60,189.22 L248.10,189.79 L248.60,190.36 L249.10,190.94 L249.60,191.52 L250.10,192.11 L250.60,192.70 L251.10,193.29 L251.60,193.89 L252.10,194.48 L252.60,195.08 L253.10,195.67 L253.60,196.27 L254.10,196.86 L254.60,197.46 L255.10,198.05 L255.60,198.64 L256.10,199.23 L256.60,199.83 L257.10,200.42 L257.60,201.01 L258.10,201.60 L258.60,202.19 L259.10,202.78 L259.60,203.37 L260.10,203.96 L260.60,204.54 L261.10,205.13 L261.60,205.71 L262.10,206.29 L262.60,206.86 L263.10,207.43 L263.60,207.99 L264.10,208.55 L264.60,209.10 L265.10,209.64 L265.60,210.18 L266.10,210.71 L266.60,211.24 L267.10,211.77 L267.60,212.29 L268.10,212.81 L268.60,213.33 L269.10,213.85 L269.60,214.36 L270.10,214.88 L270.60,215.40 L271.10,215.92 L271.60,216.43 L272.10,216.95 L272.60,217.48 L273.10,218.00 L273.60,218.53 L274.10,219.06 L274.60,219.59 L275.10,220.13 L275.60,220.67 L276.10,221.21 L276.60,221.76 L277.10,222.31 L277.60,222.86 L278.10,223.41 L278.60,223.97 L279.10,224.52 L279.60,225.08 L280.10,225.64 L280.60,226.20 L281.10,226.77 L281.60,227.33 L282.10,227.90 L282.60,228.46 L283.10,229.03 L283.60,229.60 L284.10,230.16 L284.60,230.73 L285.10,231.30 L285.60,231.87 L286.10,232.44 L286.60,233.01 L287.10,233.58 L287.60,234.14 L288.10,234.71 L288.60,235.28 L289.10,235.84 L289.60,236.41 L290.10,236.97 L290.60,237.53 L291.10,238.09 L291.60,238.65 L292.10,239.20 L292.60,239.76 L293.10,240.31 L293.60,240.86 L293.82,241.10" stroke="#00f" stroke-width="1.6" stroke-dasharray="1.7 1.76"/>
</g>
<path d="M49.10,14.20 H378.70 V241.10 H49.10 Z M49.10,241.10 v-4.30 M49.10,14.20 v4.30 M73.90,241.10 v-1.90 M73.90,14.20 v1.90 M88.41,241.10 v-1.90 M88.41,14.20 v1.90 M98.71,241.10 v-1.90 M98.71,14.20 v1.90 M106.70,241.10 v-1.90 M106.70,14.20 v1.90 M113.22,241.10 v-1.90 M113.22,14.20 v1.90 M118.74,241.10 v-1.90 M118.74,14.20 v1.90 M123.51,241.10 v-1.90 M123.51,14.20 v1.90 M127.73,241.10 v-1.90 M127.73,14.20 v1.90 M131.50,241.10 v-4.30 M131.50,14.20 v4.30 M156.30,241.10 v-1.90 M156.30,14.20 v1.90 M170.81,241.10 v-1.90 M170.81,14.20 v1.90 M181.11,241.10 v-1.90 M181.11,14.20 v1.90 M189.10,241.10 v-1.90 M189.10,14.20 v1.90 M195.62,241.10 v-1.90 M195.62,14.20 v1.90 M201.14,241.10 v-1.90 M201.14,14.20 v1.90 M205.91,241.10 v-1.90 M205.91,14.20 v1.90 M210.13,241.10 v-1.90 M210.13,14.20 v1.90 M213.90,241.10 v-4.30 M213.90,14.20 v4.30 M238.70,241.10 v-1.90 M238.70,14.20 v1.90 M253.21,241.10 v-1.90 M253.21,14.20 v1.90 M263.51,241.10 v-1.90 M263.51,14.20 v1.90 M271.50,241.10 v-1.90 M271.50,14.20 v1.90 M278.02,241.10 v-1.90 M278.02,14.20 v1.90 M283.54,241.10 v-1.90 M283.54,14.20 v1.90 M288.31,241.10 v-1.90 M288.31,14.20 v1.90 M292.53,241.10 v-1.90 M292.53,14.20 v1.90 M296.30,241.10 v-4.30 M296.30,14.20 v4.30 M321.10,241.10 v-1.90 M321.10,14.20 v1.90 M335.61,241.10 v-1.90 M335.61,14.20 v1.90 M345.91,241.10 v-1.90 M345.91,14.20 v1.90 M353.90,241.10 v-1.90 M353.90,14.20 v1.90 M360.42,241.10 v-1.90 M360.42,14.20 v1.90 M365.94,241.10 v-1.90 M365.94,14.20 v1.90 M370.71,241.10 v-1.90 M370.71,14.20 v1.90 M374.93,241.10 v-1.90 M374.93,14.20 v1.90 M378.70,241.10 v-4.30 M378.70,14.20 v4.30 M49.10,241.10 h4.30 M378.70,241.10 h-4.30 M49.10,227.44 h1.90 M378.70,227.44 h-1.90 M49.10,209.38 h1.90 M378.70,209.38 h-1.90 M49.10,200.12 h1.90 M378.70,200.12 h-1.90 M49.10,195.72 h4.30 M378.70,195.72 h-4.30 M49.10,182.06 h1.90 M378.70,182.06 h-1.90 M49.10,164.00 h1.90 M378.70,164.00 h-1.90 M49.10,154.74 h1.90 M378.70,154.74 h-1.90 M49.10,150.34 h4.30 M378.70,150.34 h-4.30 M49.10,136.68 h1.90 M378.70,136.68 h-1.90 M49.10,118.62 h1.90 M378.70,118.62 h-1.90 M49.10,109.36 h1.90 M378.70,109.36 h-1.90 M49.10,104.96 h4.30 M378.70,104.96 h-4.30 M49.10,91.30 h1.90 M378.70,91.30 h-1.90 M49.10,73.24 h1.90 M378.70,73.24 h-1.90 M49.10,63.98 h1.90 M378.70,63.98 h-1.90 M49.10,59.58 h4.30 M378.70,59.58 h-4.30 M49.10,45.92 h1.90 M378.70,45.92 h-1.90 M49.10,27.86 h1.90 M378.70,27.86 h-1.90 M49.10,18.60 h1.90 M378.70,18.60 h-1.90 M49.10,14.20 h4.30 M378.70,14.20 h-4.30" fill="none" stroke="#000" stroke-width="1"/>
<g fill="none" stroke-width="1.6">
<path d="M329.4,24.6 H363.6" stroke="#f00"/>
<path d="M329.4,37.2 H363.6" stroke="#0f0" stroke-dasharray="5.7 2.6"/>
<path d="M329.4,49.7 H363.6" stroke="#00f" stroke-dasharray="1.6 1.92"/>
</g>
<g font-family="'Liberation Sans', Arial, Helvetica, sans-serif" font-size="12.40" fill="#000">
<text x="321.1" y="28.4" text-anchor="end">WDM 3keV (w/o smoothing)</text>
<text x="321.1" y="40.9" text-anchor="end">WDM 10keV (w/o smoothing)</text>
<text x="321.1" y="53.4" text-anchor="end">WDM 30keV (w/o smoothing)</text>
<text x="22.2" y="246.3" text-anchor="start">10<tspan dx="-0.9" dy="-6.6" font-size="9.92">0</tspan></text>
<text x="22.2" y="200.9" text-anchor="start">10<tspan dx="-0.9" dy="-6.6" font-size="9.92">1</tspan></text>
<text x="22.2" y="155.5" text-anchor="start">10<tspan dx="-0.9" dy="-6.6" font-size="9.92">2</tspan></text>
<text x="22.2" y="110.2" text-anchor="start">10<tspan dx="-0.9" dy="-6.6" font-size="9.92">3</tspan></text>
<text x="22.2" y="64.8" text-anchor="start">10<tspan dx="-0.9" dy="-6.6" font-size="9.92">4</tspan></text>
<text x="22.2" y="19.4" text-anchor="start">10<tspan dx="-0.9" dy="-6.6" font-size="9.92">5</tspan></text>
<text x="48.9" y="259.6" text-anchor="middle">10<tspan dx="-0.2" dy="-6.6" font-size="9.92">-3</tspan></text>
<text x="131.3" y="259.6" text-anchor="middle">10<tspan dx="-0.2" dy="-6.6" font-size="9.92">-2</tspan></text>
<text x="213.7" y="259.6" text-anchor="middle">10<tspan dx="-0.2" dy="-6.6" font-size="9.92">-1</tspan></text>
<text x="296.1" y="259.6" text-anchor="middle">10<tspan dx="-0.2" dy="-6.6" font-size="9.92">0</tspan></text>
<text x="378.5" y="259.6" text-anchor="middle">10<tspan dx="-0.2" dy="-6.6" font-size="9.92">1</tspan></text>
<text x="213.5" y="276" text-anchor="middle">r[kpc]</text>
<text x="65.6" y="234.6">z=5, M=10<tspan dy="-6.6" font-size="9.92">4</tspan><tspan dy="6.6">M</tspan><tspan dy="3.5" font-size="9.92">sun</tspan></text>
<text transform="translate(15,127.6) rotate(-90)" text-anchor="middle">ρ<tspan dy="3.5" font-size="9.92">halo</tspan><tspan dy="-3.5">(r)/ρ</tspan><tspan dy="3.5" font-size="9.92">IGM</tspan></text>
</g>
</svg>
</body></html>
